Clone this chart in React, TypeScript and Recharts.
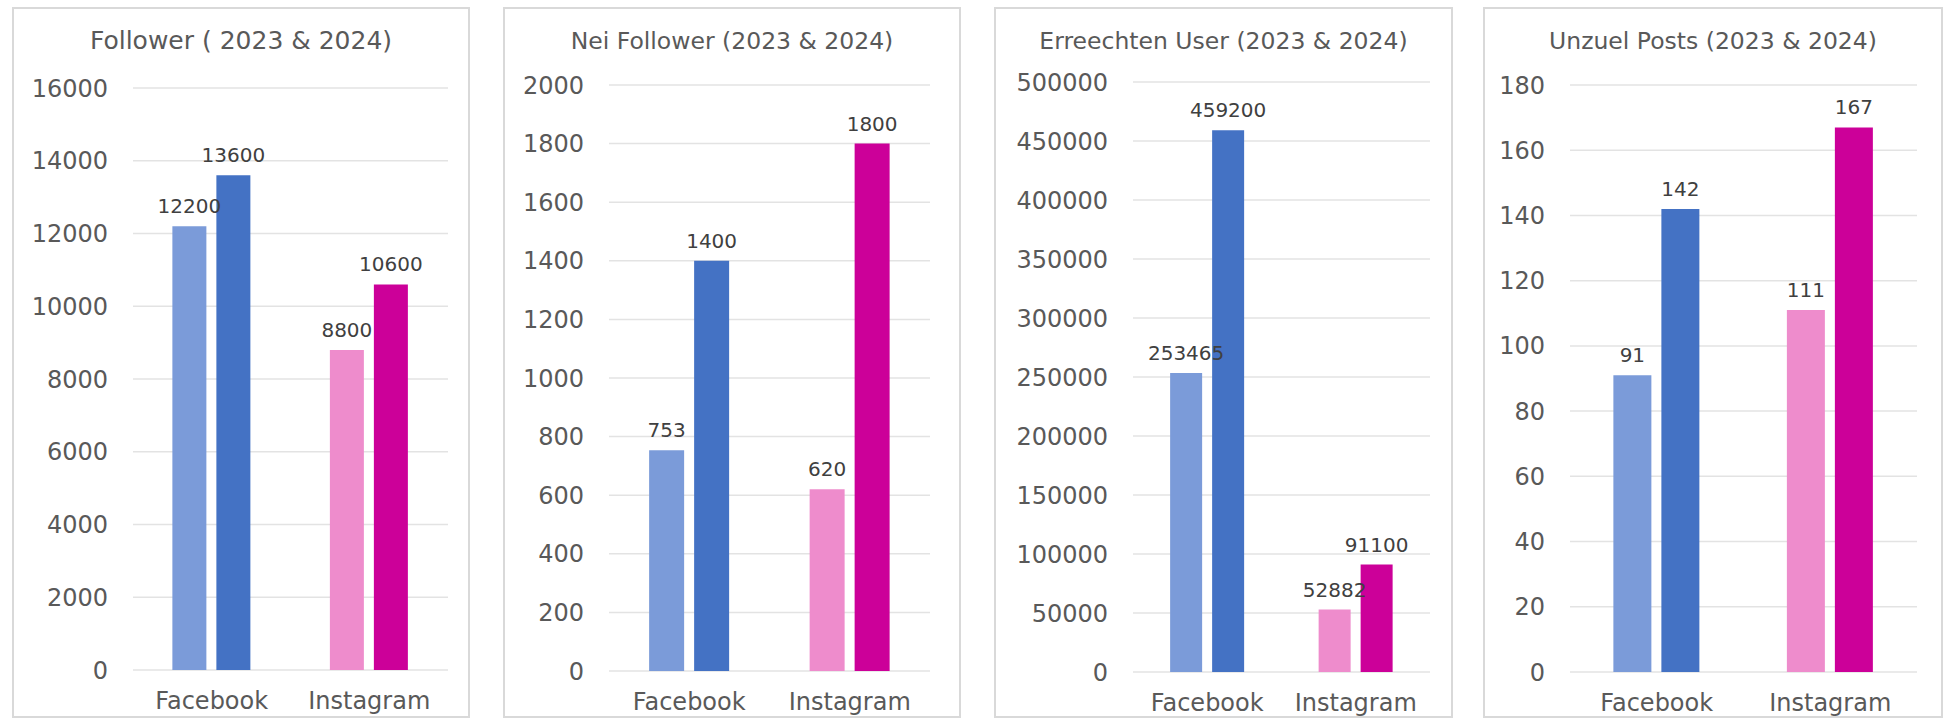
import { Bar, BarChart, CartesianGrid, Cell, LabelList, XAxis, YAxis } from 'recharts';

const categories = ['Facebook', 'Instagram'];

const follower2023 = [12200, 8800];
const follower2024 = [13600, 10600];
const followerTicks = [0, 2000, 4000, 6000, 8000, 10000, 12000, 14000, 16000];

const neiFollower2023 = [753, 620];
const neiFollower2024 = [1400, 1800];
const neiFollowerTicks = [0, 200, 400, 600, 800, 1000, 1200, 1400, 1600, 1800, 2000];

const user2023 = [253465, 52882];
const user2024 = [459200, 91100];
const userTicks = [0, 50000, 100000, 150000, 200000, 250000, 300000, 350000, 400000, 450000, 500000];

const posts2023 = [91, 111];
const posts2024 = [142, 167];
const postsTicks = [0, 20, 40, 60, 80, 100, 120, 140, 160, 180];

const colors2023 = ['#7b9bd9', '#ee8ccc'];
const colors2024 = ['#4472c4', '#cc0099'];

const FONT = '"DejaVu Sans", sans-serif';

interface PanelProps {
  title: string;
  titleSize: number;
  v2023: number[];
  v2024: number[];
  ticks: number[];
  box: { x: number; y: number; w: number; h: number };
  plot: { left: number; right: number; top: number; bottom: number };
}

function Panel({ title, titleSize, v2023, v2024, ticks, box, plot }: PanelProps) {
  const rows = categories.map((name, i) => ({ name, y2023: v2023[i], y2024: v2024[i] }));
  const max = ticks[ticks.length - 1];
  return (
    <>
      <div
        style={{
          position: 'absolute',
          left: box.x,
          top: box.y,
          width: box.w,
          height: box.h,
          boxSizing: 'border-box',
          border: '2px solid #d9d9d9',
          background: '#fff',
        }}
      />
      <div
        style={{
          position: 'absolute',
          left: box.x,
          top: 41 - titleSize * 0.6,
          width: box.w,
          textAlign: 'center',
          fontFamily: FONT,
          fontSize: titleSize,
          color: '#595959',
          whiteSpace: 'nowrap',
        }}
      >
        {title}
      </div>
      <div style={{ position: 'absolute', left: box.x, top: box.y }}>
        <BarChart
          width={box.w}
          height={box.h}
          data={rows}
          margin={{ top: plot.top - box.y, right: box.x + box.w - plot.right, left: 0, bottom: 0 }}
          barCategoryGap="25%"
          barGap={10}
        >
          <CartesianGrid vertical={false} stroke="#e3e3e3" strokeWidth={1.5} />
          <XAxis
            dataKey="name"
            axisLine={false}
            tickLine={false}
            tickSize={0}
            tickMargin={22}
            height={box.y + box.h - plot.bottom}
            tick={{ fill: '#595959', fontSize: 24, fontFamily: FONT }}
          />
          <YAxis
            domain={[0, max]}
            ticks={ticks}
            interval={0}
            axisLine={false}
            tickLine={false}
            tickSize={0}
            tickMargin={25}
            width={plot.left - box.x}
            tick={{ fill: '#595959', fontSize: 24, fontFamily: FONT }}
          />
          <Bar dataKey="y2023" isAnimationActive={false}>
            {rows.map((r, i) => (
              <Cell key={r.name} fill={colors2023[i]} />
            ))}
            <LabelList
              dataKey="y2023"
              position="top"
              offset={13}
              fill="#404040"
              fontSize={20}
              fontFamily={FONT}
            />
          </Bar>
          <Bar dataKey="y2024" isAnimationActive={false}>
            {rows.map((r, i) => (
              <Cell key={r.name} fill={colors2024[i]} />
            ))}
            <LabelList
              dataKey="y2024"
              position="top"
              offset={13}
              fill="#404040"
              fontSize={20}
              fontFamily={FONT}
            />
          </Bar>
        </BarChart>
      </div>
    </>
  );
}

export default function App() {
  return (
    <div style={{ position: 'absolute', left: 0, top: 0, width: 1948, height: 728, background: '#fff' }}>
      <Panel
        title="Follower ( 2023 & 2024)"
        titleSize={25}
        v2023={follower2023}
        v2024={follower2024}
        ticks={followerTicks}
        box={{ x: 12, y: 7, w: 458, h: 711 }}
        plot={{ left: 133, right: 448, top: 88, bottom: 670 }}
      />
      <Panel
        title="Nei Follower (2023 & 2024)"
        titleSize={23.5}
        v2023={neiFollower2023}
        v2024={neiFollower2024}
        ticks={neiFollowerTicks}
        box={{ x: 503, y: 7, w: 458, h: 711 }}
        plot={{ left: 609, right: 930, top: 85, bottom: 671 }}
      />
      <Panel
        title="Erreechten User (2023 & 2024)"
        titleSize={23.5}
        v2023={user2023}
        v2024={user2024}
        ticks={userTicks}
        box={{ x: 994, y: 7, w: 459, h: 711 }}
        plot={{ left: 1133, right: 1430, top: 82, bottom: 672 }}
      />
      <Panel
        title="Unzuel Posts (2023 & 2024)"
        titleSize={23.5}
        v2023={posts2023}
        v2024={posts2024}
        ticks={postsTicks}
        box={{ x: 1483, y: 7, w: 460, h: 711 }}
        plot={{ left: 1570, right: 1917, top: 85, bottom: 672 }}
      />
    </div>
  );
}
